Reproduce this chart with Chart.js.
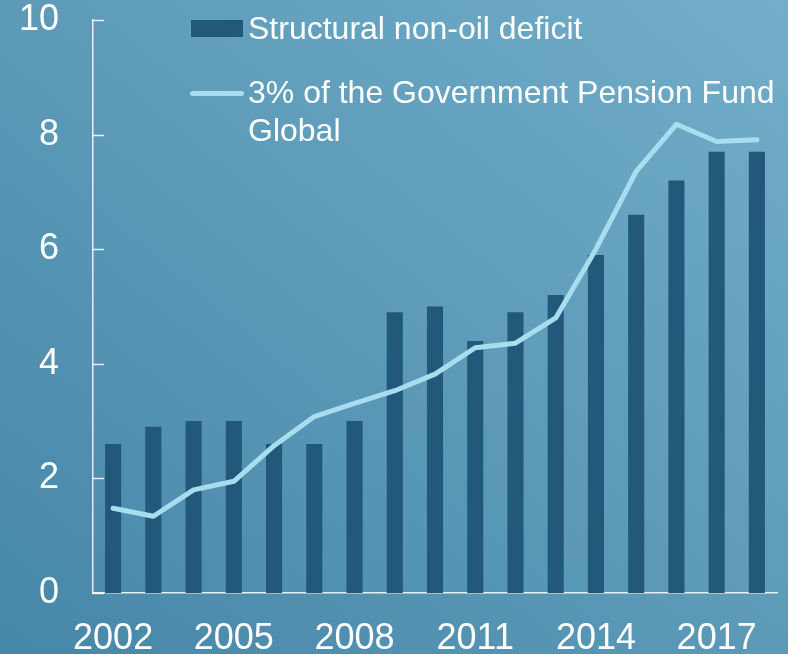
<!DOCTYPE html>
<html>
<head>
<meta charset="utf-8">
<script src="https://cdn.jsdelivr.net/npm/chart.js@4"></script>
<style>
    html, body { margin: 0; padding: 0; }
    body {
        width: 788px; height: 654px; overflow: hidden; position: relative;
        background: linear-gradient(to top right, #4686a7, #72aec9);
        font-family: "Liberation Sans", Arial, sans-serif;
    }
    #wrap { position: absolute; left: 0; top: 0; width: 788px; height: 654px; }
    .legend-text { position: absolute; color: #ffffff; font-size: 32px; white-space: nowrap; }
    .swatch { position: absolute; }
</style>
</head>
<body>
<div id="wrap"><canvas id="chart"></canvas></div>

<!-- 범례 -->
<div class="swatch" style="left:191px; top:20px; width:52px; height:17px; background:#22587a;"></div>
<div class="legend-text" style="left:248px; top:10px; line-height:36px;">Structural non-oil deficit</div>
<div class="swatch" style="left:190px; top:91px; width:54px; height:5px; border-radius:3px; background:#a8dcef;"></div>
<div class="legend-text" style="left:248px; top:73px; line-height:38px;">3% of the Government Pension Fund<br>Global</div>

<script>
// 데이터
const years = ['2002', '2003', '2004', '2005', '2006', '2007', '2008', '2009', '2010',
               '2011', '2012', '2013', '2014', '2015', '2016', '2017', '2018'];
const deficit = [2.6, 2.9, 3.0, 3.0, 2.6, 2.6, 3.0, 4.9, 5.0, 4.4, 4.9, 5.2, 5.9, 6.6, 7.2, 7.7, 7.7];
const pensionFund = [1.48, 1.34, 1.8, 1.95, 2.57, 3.08, 3.31, 3.53, 3.82, 4.28, 4.36, 4.8, 6.0, 7.36, 8.18, 7.88, 7.91];
const yTicks = [0, 2, 4, 6, 8, 10];

const AXIS_COLOR = 'rgba(255, 255, 255, 0.85)';
const FONT = { family: '"Liberation Sans", Arial, sans-serif', size: 36 };

// y축 안쪽 눈금 그리기
const innerTicks = {
    id: 'innerTicks',
    afterDraw(chart) {
        const y = chart.scales.y;
        const ctx = chart.ctx;
        ctx.save();
        ctx.strokeStyle = AXIS_COLOR;
        ctx.lineWidth = 1.5;
        yTicks.forEach(v => {
            const py = Math.round(y.getPixelForValue(v)) + 0.5;
            ctx.beginPath();
            ctx.moveTo(chart.chartArea.left, py);
            ctx.lineTo(chart.chartArea.left + 11, py);
            ctx.stroke();
        });
        ctx.restore();
    }
};

new Chart(document.getElementById('chart'), {
    data: {
        labels: years,
        datasets: [{
            type: 'line',
            label: '3% of the Government Pension Fund Global',
            data: pensionFund,
            borderColor: '#a8dcef',
            borderWidth: 5,
            borderCapStyle: 'round',
            borderJoinStyle: 'round',
            pointRadius: 0,
            tension: 0,
            order: 0
        }, {
            type: 'bar',
            label: 'Structural non-oil deficit',
            data: deficit,
            backgroundColor: '#22587a',
            categoryPercentage: 1,
            barPercentage: 0.4,
            order: 1
        }]
    },
    options: {
        responsive: true,
        maintainAspectRatio: false,
        animation: false,
        layout: { padding: { top: 20, right: 11, left: 0, bottom: 0 } },
        plugins: {
            legend: { display: false },
            tooltip: { enabled: false }
        },
        scales: {
            x: {
                grid: { display: false, drawTicks: false },
                border: { display: true, color: AXIS_COLOR, width: 1.5 },
                ticks: {
                    color: '#ffffff',
                    font: FONT,
                    padding: 24,
                    autoSkip: false,
                    maxRotation: 0,
                    callback(value, index) {
                        return index % 3 === 0 ? years[index] : '';
                    }
                },
                afterFit(scale) {
                    scale.height = 61;
                    scale.paddingLeft = 0;
                    scale.paddingRight = 0;
                }
            },
            y: {
                min: 0,
                max: 10,
                grid: { display: false, drawTicks: false },
                border: { display: true, color: AXIS_COLOR, width: 1.5 },
                ticks: {
                    stepSize: 2,
                    color: '#ffffff',
                    font: FONT,
                    padding: 34
                },
                afterFit(scale) {
                    scale.width = 93;
                    scale.paddingTop = 0;
                    scale.paddingBottom = 0;
                }
            }
        }
    },
    plugins: [innerTicks]
});
</script>
</body>
</html>
